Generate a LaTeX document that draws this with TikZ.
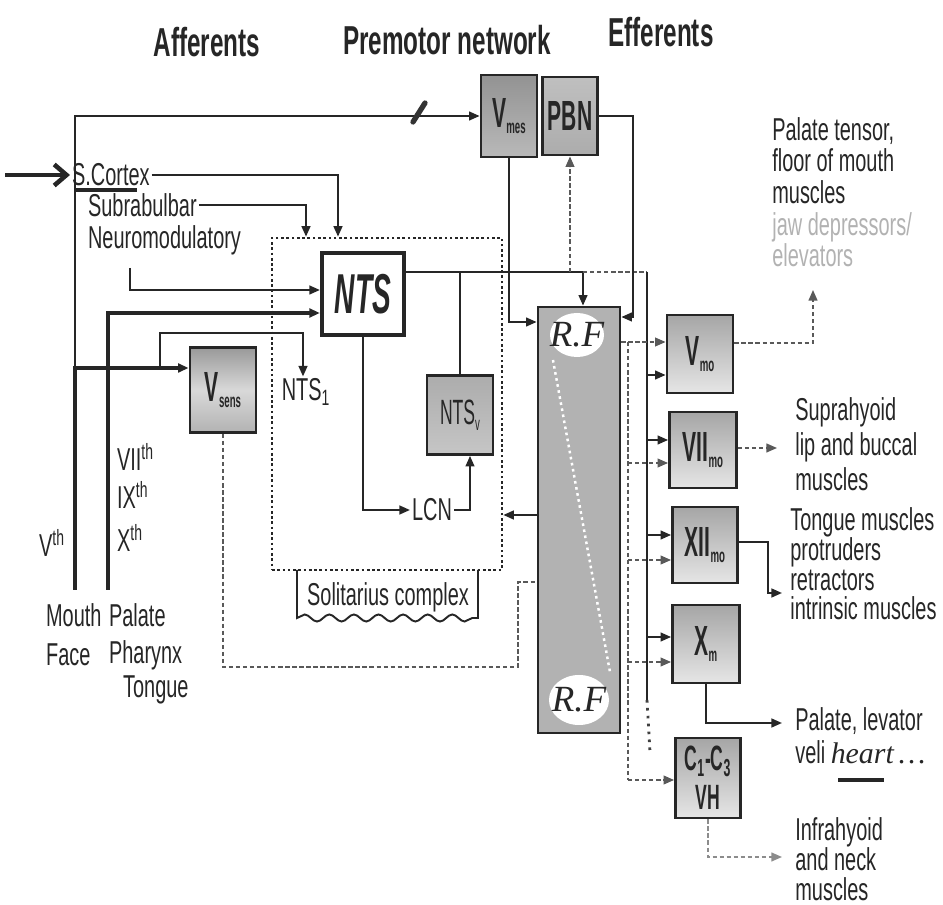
\documentclass[tikz,border=0pt]{standalone}
\usepackage{fontspec}
\setmainfont{Liberation Sans}
\newfontfamily\bodyfont[FakeStretch=0.63]{Liberation Sans}
\newfontfamily\lblfont[FakeStretch=0.5]{Liberation Sans}
\newfontfamily\ttlfont[FakeStretch=0.6]{Liberation Sans}
\newfontfamily\handfont{Liberation Serif}
\usetikzlibrary{arrows.meta,decorations.pathmorphing}
\newcommand\nucl[3][24]{{\fontsize{#1}{#1}\selectfont #2}\raisebox{-0.6ex}{\fontsize{11}{11}\selectfont #3}}
\tikzset{
  nucbox/.style = {rectangle, draw=black!85, line width=1.6pt, inner sep=0, text=black!85, font=\lblfont\bfseries},
  motbox/.style = {nucbox, top color=gray!70, bottom color=gray!20},
  lnk/.style    = {line width=1.1pt, draw=black!85},
  thklnk/.style = {line width=2.6pt, draw=black!85},
  dshlnk/.style = {line width=0.9pt, draw=black!65, dash pattern=on 2.5pt off 1.5pt},
  et/.style     = {font=\bodyfont\fontsize{18}{18}\selectfont, text=black!85, inner sep=1pt},
  blk/.style    = {et, anchor=north west, align=left, inner sep=0},
  ttl/.style    = {font=\ttlfont\bfseries\fontsize{23}{23}\selectfont, text=black!85},
  rfl/.style    = {font=\handfont\itshape\fontsize{21}{21}\selectfont, text=black!85}
}
\begin{document}
\begin{tikzpicture}[x=0.2mm, y=-0.2mm, >={Triangle[length=6pt,width=5pt]}]
  \useasboundingbox (0,0) rectangle (943,905);
  \node[ttl] (taff) at (207,42) {Afferents};
  \node[ttl] (tpre) at (447,40) {Premotor network};
  \node[ttl] (teff) at (661,32) {Efferents};

  \node[draw=black!85, line width=1.5pt, dash pattern=on 1.5pt off 1.5pt, minimum width=46mm, minimum height=66.4mm] (sol) at (387,404) {};
  \node[nucbox, top color=gray!85, bottom color=gray!55, minimum width=11.2mm, minimum height=16.4mm] (vmes) at (509,116) {\nucl{V}{mes}};
  \node[nucbox, top color=gray!50, bottom color=gray!65, minimum width=11mm, minimum height=15.6mm] (pbn) at (570,116) {\fontsize{24}{24}\selectfont PBN};
  \node[nucbox, fill=white, line width=2.4pt, minimum width=16.4mm, minimum height=16.4mm] (nts) at (363,294) {\fontsize{32}{32}\selectfont\itshape NTS};
  \node[nucbox, top color=gray!80, bottom color=gray!60, middle color=gray!30, minimum width=13.2mm, minimum height=17mm] (vsens) at (223,390) {\nucl{V}{sens}};
  \node[nucbox, top color=gray!65, bottom color=gray!45, font=\lblfont, minimum width=13.2mm, minimum height=15.8mm] (ntsv) at (460,415) {\nucl[20]{NTS}{v}};
  \node[nucbox, fill=gray!60, minimum width=16.4mm, minimum height=85.2mm] (rf) at (579,520) {};
  \fill[white] (577,335) ellipse (27 and 22);
  \fill[white] (579,700) ellipse (30 and 25);
  \node[rfl] (rft) at (577,335) {R.F};
  \node[rfl] (rfb) at (579,700) {R.F};
  \draw[white, line width=1.4pt, dash pattern=on 1.5pt off 2pt] (553,360) -- (610,672);

  \node[motbox, minimum width=13.2mm, minimum height=15.6mm] (vmo) at (700,354) {\nucl{V}{mo}};
  \node[motbox, minimum width=13.4mm, minimum height=15.2mm] (viim) at (703,450) {\nucl{VII}{mo}};
  \node[motbox, minimum width=13mm, minimum height=15.2mm] (xii) at (705,545) {\nucl{XII}{mo}};
  \node[motbox, minimum width=13.4mm, minimum height=15.6mm] (xm) at (706,644) {\nucl{X}{m}};
  \node[motbox, align=center, font=\lblfont\bfseries\fontsize{20}{22}\selectfont, minimum width=13mm, minimum height=16mm] (cvh) at (708,778) {C\textsubscript{1}-C\textsubscript{3}\\VH};

  \node[et, anchor=west] (ctx) at (70,175) {S.Cortex};
  \node[et, anchor=west] (sub) at (86,205) {Subrabulbar};
  \node[et, anchor=west] (neu) at (86,240) {Neuromodulatory};
  \node[et] (nts1) at (306,392) {NTS\textsubscript{1}};
  \node[et] (lcn) at (432,510) {LCN};
  \node[et] (vth) at (52,543) {V\textsuperscript{th}};
  \node[et, anchor=west] (viith) at (115,457) {VII\textsuperscript{th}};
  \node[et, anchor=west] (ixth) at (115,495) {IX\textsuperscript{th}};
  \node[et, anchor=west] (xth) at (115,538) {X\textsuperscript{th}};
  \node[et, anchor=west] (mth) at (44,615) {Mouth};
  \node[et, anchor=west] (pal) at (107,615) {Palate};
  \node[et, anchor=west] (fac) at (44,655) {Face};
  \node[et, anchor=west] (pha) at (107,655) {Pharynx};
  \node[et, anchor=west] (ton) at (121,690) {Tongue};
  \node[et] (soltxt) at (388,597) {Solitarius complex};
  \draw[lnk] (297,570) -- (297,618) decorate[decoration={snake, amplitude=2pt, segment length=14pt}] {-- (478,618)} -- (478,570);

  \node[blk] (tpal) at (772,117) {Palate tensor,\\floor of mouth\\muscles\\{\color{gray!60}jaw depressors/}\\{\color{gray!60}elevators}};
  \node[blk, font=\bodyfont\fontsize{18}{20}\selectfont] (tsup) at (795,397) {Suprahyoid\\lip and buccal\\muscles};
  \node[blk, font=\bodyfont\fontsize{18}{17}\selectfont] (tton) at (790,507) {Tongue muscles\\protruders\\retractors\\intrinsic muscles};
  \node[blk] (tlev) at (795,707) {Palate, levator\\[1pt]veli {\handfont\itshape\fontsize{17}{17}\selectfont heart\,\ldots}};
  \node[blk, font=\bodyfont\fontsize{18}{17}\selectfont] (tinf) at (795,817) {Infrahyoid\\and neck\\muscles};

  \coordinate (mf) at (75,590); \coordinate (mfk) at (75,368); \coordinate (vsb) at (160,368);
  \coordinate (ppt) at (108,590); \coordinate (nm) at (130,268); \coordinate (ctin) at (5,175);
  \coordinate (rfin) at (583,272); \coordinate (bus) at (647,272); \coordinate (busend) at (647,700);
  \coordinate (jaw) at (813,290); \coordinate (supin) at (777,448); \coordinate (tngin) at (782,593);
  \coordinate (lvin) at (782,723); \coordinate (infin) at (782,857);

  \draw[thklnk,->] (mf) -- (mfk) -- (vsens.west |- mfk);
  \draw[lnk,->] (mfk) |- (vmes.west);
  \draw[line width=3pt, black!80, line cap=round] (413,122) -- (425,103);
  \draw[thklnk,->] (ppt) |- (nts.west |- 0,313);
  \draw[lnk,->] (nm) |- (nts.west |- 0,290);
  \draw[lnk,->] (vsb) |- (303,333) -- (nts1.north -| 303,0);
  \draw[lnk,->] (sub.east) -| (sol.north -| 306,0);
  \draw[lnk,->] (ctx.east) -| (sol.north -| 338,0);
  \draw[thklnk,-{Straight Barb[length=7pt,width=12pt]}] (ctin) -- (ctx.west);
  \draw[line width=2.5pt, black!85] (75,190) -- (137,190);

  \draw[lnk,->] (nts.east |- rfin) -- (rfin) -- (rf.north -| rfin);
  \draw[dshlnk,->] (pbn.south |- rfin) -- (pbn.south);
  \draw[dshlnk] (rfin) -- (bus);
  \draw[lnk] (bus) -- (busend);
  \draw[black!75, line width=1.6pt, dash pattern=on 1.5pt off 3pt] (busend) -- (650,752);
  \draw[lnk] (ntsv.north |- rfin) -- (ntsv.north);
  \draw[lnk,->] (nts.south) |- (lcn.west);
  \draw[lnk,->] (lcn.east) -| ([xshift=2mm]ntsv.south);
  \draw[lnk,->] (vmes.south) |- (rf.west |- 0,322);
  \draw[lnk,->] (pbn.east) -- (633,116) -- (633,317) -- (rf.east |- 0,317);
  \draw[lnk,->] (rf.west |- 0,515) -- (sol.east |- 0,515);
  \draw[dshlnk] (vsens.south) |- (518,667) -- (518,582) -- (rf.west |- 0,582);

  \draw[dshlnk,->] (rf.east |- 0,342) -- (vmo.west |- 0,342);
  \draw[dshlnk] (628,342) -- (628,780);
  \foreach \m/\y in {viim/463, xii/560, xm/662, cvh/780}
    \draw[dshlnk,->] (628,\y) -- (\m.west |- 0,\y);
  \foreach \m/\y in {vmo/375, viim/440, xii/535, xm/637}
    \draw[lnk,->] (647,\y) -- (\m.west |- 0,\y);

  \draw[dshlnk,->] (vmo.east |- 0,343) -| (jaw);
  \draw[dshlnk,->] (viim.east |- 0,448) -- (supin);
  \draw[lnk,->] (xii.east |- 0,542) -| (768,593) -- (tngin);
  \draw[lnk,->] (xm.south) |- (lvin);
  \draw[dshlnk, draw=black!45,->] (cvh.south) |- (infin);
  \draw[line width=2pt, black!85] (838,780) -- (884,780);
\end{tikzpicture}
\end{document}
